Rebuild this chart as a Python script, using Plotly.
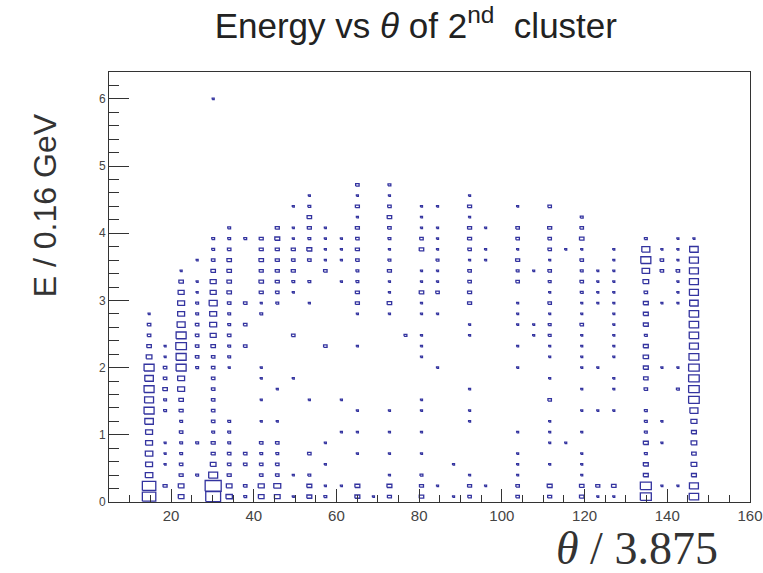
import math
import plotly.graph_objects as go

# Binning of the 2D histogram (theta in units of the x axis, energy in GeV/0.16 units)
THETA_MIN, THETA_MAX, THETA_WIDTH = 5.0, 160.0, 3.875
E_MIN, E_MAX, E_WIDTH = 0.0, 6.4, 0.16

# Theta bin centres that carry entries
theta_centres = [14.69, 18.56, 22.44, 26.31, 30.19, 34.06, 37.94, 41.81, 45.69,
                 49.56, 53.44, 57.31, 61.19, 65.06, 68.94, 72.81, 76.69, 80.56,
                 84.44, 88.31, 92.19, 96.06, 103.81, 107.69, 111.56, 115.44,
                 119.31, 123.19, 127.06, 134.81, 138.69, 142.56, 146.44]

# Entries per energy bin (index 0 = lowest energy bin), one list per theta column
n_14 = [45, 45, 14, 12, 14, 12, 12, 18, 25, 20, 25, 18, 25, 8, 5, 3, 3, 1]
n_18 = [0, 4, 0, 1, 1, 1, 0, 0, 2, 2, 5, 3, 3, 1, 1]
n_22 = [8, 8, 4, 3, 2, 2, 3, 2, 4, 5, 12, 12, 25, 25, 28, 25, 16, 12, 12, 9, 5, 1]
n_26 = [0, 0, 2, 0, 0, 2, 0, 0, 0, 0, 0, 0, 2, 3, 3, 3, 3, 2, 2, 1, 1, 0, 1]
n_30 = [55, 64, 20, 8, 4, 4, 2, 3, 3, 3, 3, 3, 3, 3, 5, 9, 12, 12, 16, 9, 9, 5, 3,
        2, 2, 0, 0, 0, 0, 0, 0, 0, 0, 0, 0, 0, 0, 1]
n_34 = [10, 8, 4, 3, 3, 2, 2, 2, 0, 0, 0, 0, 1, 2, 2, 3, 2, 2, 3, 5, 5, 5, 5, 3, 2, 2]
n_38 = [2, 3, 0, 3, 3, 0, 0, 0, 0, 0, 0, 0, 0, 0, 3, 0, 3, 0, 3, 0, 0, 0, 0, 0, 2]
n_42 = [8, 9, 3, 3, 2, 3, 0, 1, 0, 1, 0, 1, 1, 0, 0, 0, 0, 2, 1, 4, 5, 4, 5, 4, 4]
n_46 = [8, 12, 3, 3, 2, 3, 0, 1, 0, 0, 1, 0, 0, 0, 0, 0, 0, 0, 2, 3, 4, 4, 4, 4, 6, 4]
n_50 = [1, 0, 1, 0, 0, 0, 0, 0, 0, 0, 0, 1, 0, 0, 0, 3, 0, 0, 0, 1, 2, 4, 3, 4, 1, 1, 0, 1]
n_53 = [6, 6, 2, 0, 3, 0, 0, 0, 0, 1, 0, 0, 0, 0, 0, 0, 0, 0, 1, 0, 2, 0, 3, 6, 2, 4,
        5, 2, 1]
n_57 = [2, 1, 0, 1, 0, 1, 0, 0, 0, 0, 0, 0, 0, 0, 3, 0, 0, 0, 0, 0, 0, 3, 1, 1, 1, 1]
n_61 = [0, 1, 0, 0, 0, 0, 1, 0, 0, 1, 0, 0, 0, 0, 0, 0, 0, 0, 0, 0, 1, 0, 1, 1, 1]
n_65 = [6, 6, 0, 0, 1, 0, 1, 0, 1, 0, 0, 0, 0, 0, 1, 0, 0, 1, 4, 4, 2, 2, 3, 4, 3, 4,
        1, 4, 1, 3]
n_69 = [1]
n_73 = [4, 6, 1, 0, 1, 0, 1, 0, 1, 0, 0, 0, 0, 0, 0, 0, 0, 1, 5, 1, 1, 4, 2, 1, 2, 3,
        5, 3, 1, 2]
n_77 = [0, 0, 0, 0, 0, 0, 0, 0, 0, 0, 0, 0, 0, 0, 0, 2]
n_81 = [5, 4, 2, 0, 1, 0, 1, 0, 1, 1, 0, 0, 0, 1, 1, 1, 0, 1, 1, 5, 1, 1, 0, 5, 3, 1,
        1, 1]
n_84 = [0, 1, 0, 0, 0, 0, 0, 0, 0, 0, 0, 0, 1, 0, 0, 0, 0, 1, 0, 3, 1, 1, 2, 1, 1, 1,
        0, 1]
n_88 = [1, 0, 0, 1]
n_92 = [3, 4, 1, 0, 0, 0, 0, 1, 1, 0, 1, 0, 0, 0, 0, 1, 1, 0, 4, 4, 3, 3, 1, 3, 4, 4,
        1, 4, 1]
n_96 = [0, 1, 0, 0, 0, 0, 0, 0, 0, 0, 0, 0, 0, 0, 0, 0, 0, 0, 0, 0, 0, 0, 1, 1, 0, 1]
n_104 = [3, 3, 1, 1, 1, 0, 1, 0, 0, 0, 0, 0, 1, 0, 1, 0, 1, 1, 1, 0, 3, 2, 4, 1, 3, 3,
         0, 1]
n_108 = [0, 0, 0, 0, 0, 0, 0, 0, 0, 0, 0, 0, 0, 0, 0, 1, 1, 0, 0, 0, 0, 1]
n_112 = [4, 6, 0, 1, 0, 1, 1, 1, 0, 3, 0, 1, 0, 1, 1, 2, 2, 1, 3, 1, 2, 3, 1, 3, 3, 4,
         0, 3]
n_115 = [0, 0, 0, 0, 0, 1, 0, 0, 0, 0, 0, 0, 0, 0, 0, 0, 0, 0, 0, 0, 0, 0, 0, 1]
n_119 = [5, 5, 1, 1, 1, 0, 1, 0, 1, 0, 1, 0, 1, 1, 1, 1, 3, 1, 1, 2, 3, 2, 3, 1, 5, 3, 2]
n_123 = [1, 4, 0, 0, 0, 0, 0, 0, 1, 0, 0, 0, 1, 0, 0, 0, 0, 0, 1, 1, 1, 1]
n_127 = [1, 5, 0, 0, 0, 0, 0, 0, 1, 0, 1, 1, 0, 1, 1, 1, 1, 1, 1, 1, 1, 1, 1, 1]
n_135 = [30, 30, 6, 6, 2, 6, 2, 2, 2, 0, 3, 5, 6, 7, 6, 2, 6, 6, 6, 3, 8, 14, 25, 16, 2]
n_139 = [0, 1, 0, 0, 0, 1, 0, 1, 0, 0, 0, 0, 1, 0, 0, 0, 0, 0, 1, 0, 0, 3, 3, 1]
n_143 = [0, 1, 0, 0, 0, 0, 0, 0, 0, 0, 2, 0, 1, 0, 0, 0, 0, 0, 1, 1, 1, 3, 1, 1, 1]
n_146 = [22, 20, 6, 8, 5, 8, 6, 9, 16, 28, 28, 28, 28, 24, 20, 22, 22, 22, 18, 20, 20,
         20, 20, 18, 1]

columns = [n_14, n_18, n_22, n_26, n_30, n_34, n_38, n_42, n_46, n_50, n_53, n_57,
           n_61, n_65, n_69, n_73, n_77, n_81, n_84, n_88, n_92, n_96, n_104, n_108,
           n_112, n_115, n_119, n_123, n_127, n_135, n_139, n_143, n_146]

# Box option: each filled bin is drawn as an open rectangle whose area scales
# with the bin content (side ~ sqrt(content / max content)).
n_max = max(max(col) for col in columns)
box_x, box_y = [], []
for theta, col in zip(theta_centres, columns):
    for k, n in enumerate(col):
        if n <= 0:
            continue
        e = E_MIN + (k + 0.5) * E_WIDTH
        f = math.sqrt(n / n_max)
        hx = 0.5 * THETA_WIDTH * f
        hy = 0.5 * E_WIDTH * f
        box_x += [theta - hx, theta + hx, theta + hx, theta - hx, theta - hx, None]
        box_y += [e - hy, e - hy, e + hy, e + hy, e - hy, None]

fig = go.Figure()
fig.add_trace(go.Scatter(
    x=box_x, y=box_y, mode="lines",
    line=dict(color="#33339f", width=1.3),
    hoverinfo="skip", showlegend=False,
))

axis_font = dict(family="Liberation Sans, Arial, sans-serif", color="#444444")

fig.update_layout(
    width=763, height=573,
    margin=dict(l=109, r=13, t=72, b=71),
    paper_bgcolor="white", plot_bgcolor="white",
    title=dict(
        text="Energy vs <i>θ</i> of 2<sup>nd</sup>\u00a0 cluster",
        x=0.545, xanchor="center", y=0.955, yanchor="middle",
        font=dict(family="Liberation Sans, Arial, sans-serif", size=35, color="#222222"),
    ),
    xaxis=dict(
        range=[THETA_MIN, THETA_MAX], tick0=0, dtick=20, automargin=False,
        ticks="inside", ticklen=13, tickwidth=1, tickcolor="#333333",
        minor=dict(tick0=0, dtick=5, ticks="inside", ticklen=7, tickcolor="#333333"),
        showline=True, linecolor="#333333", linewidth=1, mirror=True,
        showgrid=False, zeroline=False,
        tickfont=dict(size=15, **axis_font),
    ),
    yaxis=dict(
        range=[E_MIN, E_MAX], tick0=0, dtick=1, automargin=False,
        ticks="inside", ticklen=20, tickwidth=1, tickcolor="#333333",
        minor=dict(tick0=0, dtick=0.2, ticks="inside", ticklen=10, tickcolor="#333333"),
        showline=True, linecolor="#333333", linewidth=1, mirror=True,
        showgrid=False, zeroline=False,
        tickfont=dict(size=12, **axis_font),
    ),
    annotations=[
        dict(text="E / 0.16 GeV", textangle=-90, xref="paper", yref="paper",
             x=-0.1, y=0.69, xanchor="center", yanchor="middle", showarrow=False,
             font=dict(family="Liberation Sans, Arial, sans-serif", size=32,
                       color="#333333")),
        dict(text="<i>θ</i> / 3.875", xref="paper", yref="paper",
             x=0.823, y=-0.107, xanchor="center", yanchor="middle", showarrow=False,
             font=dict(family="Liberation Serif, Times New Roman, serif", size=46,
                       color="#333333")),
    ],
)

fig.write_html("out.html", config={"displayModeBar": False})
